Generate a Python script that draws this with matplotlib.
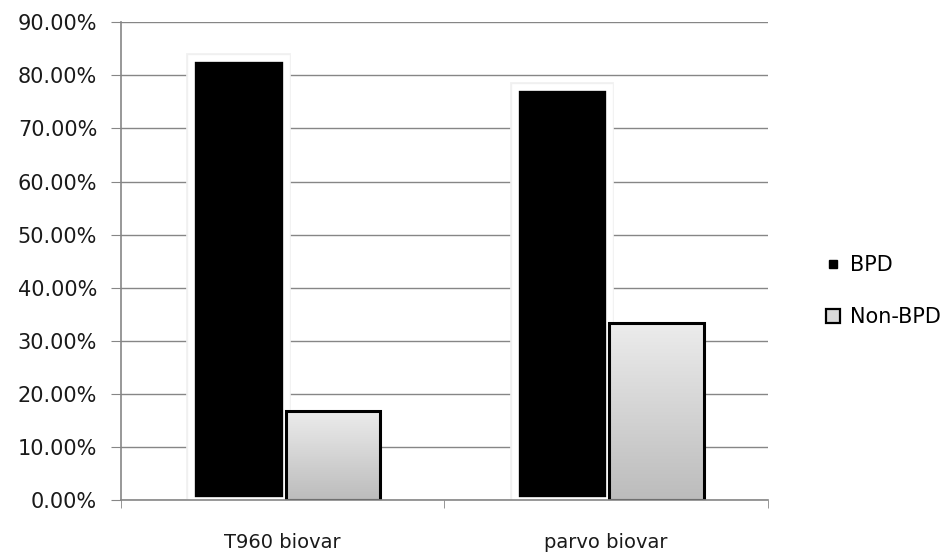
import numpy as np
import matplotlib.pyplot as plt
from matplotlib.lines import Line2D
from matplotlib.colors import LinearSegmentedColormap

categories = ["T960 biovar", "parvo biovar"]
bpd = [83.3, 77.8]
non_bpd = [16.7, 33.3]
y_ticks = [0, 10, 20, 30, 40, 50, 60, 70, 80, 90]

plt.rcParams['font.family'] = ['DejaVu Sans']

fig = plt.figure(figsize=(9.51, 5.56), dpi=100)
ax = fig.add_axes([0.127, 0.1007, 0.6806, 0.8592])

x = np.arange(len(categories))
w = 0.292
off = 0.01

# BPD: black bars with white border and a faint shadow
ax.bar(x - w / 2 + off, bpd, w, color='none', edgecolor='#f0f0f0', linewidth=7, zorder=2)
ax.bar(x - w / 2 + off, bpd, w, color='black', edgecolor='white', linewidth=4.8, zorder=3)

# Non-BPD: gray gradient fill with black edge
gray = LinearSegmentedColormap.from_list('g', ['#bcbcbc', '#ececec'])
grad = np.linspace(0, 1, 256).reshape(-1, 1)
bars = ax.bar(x + w / 2 + off, non_bpd, w, color='none', edgecolor='black', linewidth=2.2, zorder=4)
for b in bars:
    x0, y0 = b.get_x(), b.get_y()
    im = ax.imshow(grad, cmap=gray, origin='lower', aspect='auto',
                   extent=[x0, x0 + b.get_width(), y0, y0 + b.get_height()], zorder=3)
    im.set_clip_path(b)

ax.set_xlim(-0.5, len(categories) - 0.5)
ax.set_ylim(0, 90)

ax.set_yticks(y_ticks)
ax.set_yticklabels([f"{v:.2f}%" for v in y_ticks])
ax.yaxis.grid(True, color='#868686', linewidth=1)
ax.set_axisbelow(True)
ax.tick_params(axis='y', length=7, color='#868686', pad=10, labelsize=15, labelcolor='#1a1a1a')

ax.set_xticks(x)
ax.set_xticklabels(categories)
ax.set_xticks(np.arange(len(categories) + 1) - 0.5, minor=True)
ax.tick_params(axis='x', which='major', length=0, pad=24, labelsize=14, labelcolor='#1a1a1a')
ax.tick_params(axis='x', which='minor', length=6, color='#868686')

for s in ['top', 'right']:
    ax.spines[s].set_visible(False)
for s in ['left', 'bottom']:
    ax.spines[s].set_color('#868686')
    ax.spines[s].set_linewidth(1.2)
    ax.spines[s].set_zorder(6)

handles = [
    Line2D([], [], marker='s', ls='', color='black', markersize=5.5),
    Line2D([], [], marker='s', ls='', markerfacecolor='#dadada', markeredgecolor='black',
           markeredgewidth=1.6, markersize=10),
]
fig.legend(handles, ['BPD', 'Non-BPD'], loc='center left', bbox_to_anchor=(0.866, 0.4766),
           frameon=False, fontsize=15, labelspacing=1.55, handlelength=0.9,
           handletextpad=0.37, borderpad=0, borderaxespad=0)

fig.savefig('out.png', dpi=100)
